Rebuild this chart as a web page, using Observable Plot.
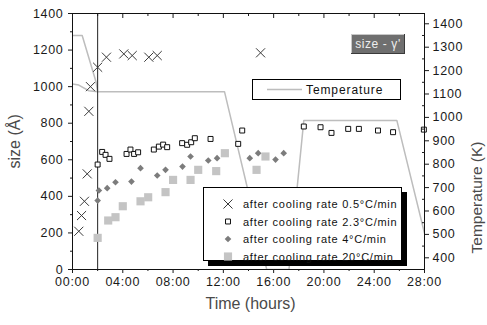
<!DOCTYPE html>
<html><head><meta charset="utf-8">
<script src="https://cdn.jsdelivr.net/npm/d3@7"></script>
<script src="https://cdn.jsdelivr.net/npm/@observablehq/plot@0.6"></script>
<style>
body{margin:0;background:#fff;}
#wrap{position:relative;width:487px;height:325px;overflow:hidden;font-family:"Liberation Sans",Arial,sans-serif;}
.ov{position:absolute;}
</style></head><body><div id="wrap"></div>
<script>
// ---- data (time in hours, size in Å, temperature in K) ----
const t05 = [0.5, 0.72, 0.95, 1.17, 1.3, 1.43, 2.0, 2.7, 4.08, 4.75, 6.07, 6.74, 14.96];
const v05 = [209, 295, 373, 523, 865, 1000, 1106, 1161, 1179, 1170, 1161, 1170, 1185];

const t23 = [2.0, 2.36, 2.63, 2.94, 4.3, 4.61, 4.9, 5.22, 6.47, 6.87, 7.21, 7.53, 8.72, 9.12, 9.44, 9.73, 10.98, 13.18, 13.5, 18.4, 19.73, 20.6, 21.93, 22.78, 24.3, 25.5, 27.95];
const v23 = [574, 643, 627, 605, 632, 656, 632, 641, 656, 672, 683, 669, 691, 682, 696, 718, 714, 687, 760, 782, 778, 747, 769, 769, 760, 751, 765];

const t4 = [2.0, 2.1, 2.76, 3.42, 4.69, 5.41, 6.74, 7.4, 8.75, 9.39, 10.8, 11.5, 14.1, 14.77, 16.15, 16.8];
const v4 = [377, 432, 445, 477, 481, 554, 514, 545, 563, 618, 596, 609, 609, 636, 601, 636];

const t20 = [2.0, 2.84, 3.42, 4.0, 5.41, 6.02, 7.4, 8.0, 9.39, 10.0, 11.43, 12.12, 14.64, 15.35];
const v20 = [173, 268, 286, 346, 373, 395, 423, 490, 490, 545, 538, 636, 545, 618];

const tempT1 = [0, 0.77, 1.88, 2.0, 12.09, 13.87, 15.45, 17.22, 17.87, 18.4, 25.8, 28];
const tempK1 = [1350, 1350, 1150, 1110, 1110, 708, 350, 350, 700, 987, 987, 505];
const tempT2 = [0, 0.5, 1.3, 2.0];
const tempK2 = [1143, 1138, 1114, 1110];

const xTicks = [0, 4, 8, 12, 16, 20, 24, 28];
const xMinor = [2, 6, 10, 14, 18, 22, 26];
const yTicks = [0, 200, 400, 600, 800, 1000, 1200, 1400];
const yMinor = [100, 300, 500, 700, 900, 1100, 1300];
const kTicks = [400, 500, 600, 700, 800, 900, 1000, 1100, 1200, 1300, 1400];
const kMinor = [450, 550, 650, 750, 850, 950, 1050, 1150, 1250, 1350];

const legendLabels = ["after cooling rate 0.5°C/min", "after cooling rate 2.3°C/min", "after cooling rate 4°C/min", "after cooling rate 20°C/min"];
const tempLabel = "Temperature";
const tagLabel = "size - γ'";

// right axis (K) mapped onto left scale (Å)
const K0 = 350, K1 = 1444;
const kToV = k => (k - K0) * 1400 / (K1 - K0);
const vToK = v => K0 + v * (K1 - K0) / 1400;

const zip = (t, v) => t.map((d, i) => ({t: d, v: v[i]}));
const rows05 = zip(t05, v05), rows23 = zip(t23, v23), rows4 = zip(t4, v4), rows20 = zip(t20, v20);
const temp1 = tempT1.map((d, i) => ({t: d, v: kToV(tempK1[i])}));
const temp2 = tempT2.map((d, i) => ({t: d, v: kToV(tempK2[i])}));
const hh = d => String(d).padStart(2, "0") + ":00";

const sym = {
  s05: {symbol: "times", r: 4.2, stroke: "#3a3a3a", fill: "none", strokeWidth: 1},
  s23: {symbol: "square", r: 2.8, stroke: "#111", fill: "white", strokeWidth: 1},
  s4: {symbol: "diamond2", r: 3, fill: "#7c7c7c", stroke: "none"},
  s20: {symbol: "square", r: 4.6, fill: "#c4c4c4", stroke: "none"}
};

const plot = Plot.plot({
  width: 487, height: 325,
  marginLeft: 72, marginRight: 63, marginTop: 13, marginBottom: 56,
  style: {fontFamily: "Liberation Sans, Arial, sans-serif", fontSize: "12.5px", color: "#1a1a1a", background: "white", letterSpacing: "0.7px"},
  x: {domain: [0, 28], label: null},
  y: {domain: [0, 1400], label: null},
  marks: [
    Plot.line(temp1, {x: "t", y: "v", stroke: "#bdbdbd", strokeWidth: 1.5, clip: true}),
    Plot.line(temp2, {x: "t", y: "v", stroke: "#bdbdbd", strokeWidth: 1.5, clip: true}),
    Plot.ruleX([2], {stroke: "#222", strokeWidth: 1}),
    Plot.dot(rows20, {x: "t", y: "v", ...sym.s20}),
    Plot.dot(rows4, {x: "t", y: "v", ...sym.s4}),
    Plot.dot(rows23, {x: "t", y: "v", ...sym.s23}),
    Plot.dot(rows05, {x: "t", y: "v", ...sym.s05}),
    Plot.frame({stroke: "#111"}),
    Plot.axisX({ticks: xTicks, tickSize: 4, tickPadding: 4, tickFormat: hh}),
    Plot.axisX({ticks: xMinor, tickSize: 2, tickFormat: () => ""}),
    Plot.axisX({anchor: "top", ticks: xTicks, tickSize: -4, tickFormat: () => ""}),
    Plot.axisX({anchor: "top", ticks: xMinor, tickSize: -2, tickFormat: () => ""}),
    Plot.axisY({ticks: yTicks, tickSize: 4, tickPadding: 5, tickFormat: d => String(d)}),
    Plot.axisY({ticks: yMinor, tickSize: 2, tickFormat: () => ""}),
    Plot.axisY({anchor: "right", ticks: kTicks.map(kToV), tickSize: 4, tickPadding: 4, tickFormat: v => String(Math.round(vToK(v)))}),
    Plot.axisY({anchor: "right", ticks: kMinor.map(kToV), tickSize: -3, tickFormat: () => ""}),
    Plot.text(["size (Å)"], {frameAnchor: "left", rotate: -90, dx: -58, dy: 27, fontSize: 16, fill: "#4a4a4a"}),
    Plot.text(["Time (hours)"], {frameAnchor: "bottom", dy: 39, dx: 2, fontSize: 16, fill: "#4a4a4a"}),
    Plot.text(["Temperature (K)"], {frameAnchor: "right", rotate: -90, dx: 53, dy: 0, fontSize: 15.5, fill: "#4a4a4a"})
  ]
});
d3.select(plot).selectAll("g[aria-label='text']").attr("letter-spacing", "0px");
const wrap = document.getElementById("wrap");
wrap.appendChild(plot);

// ---- overlays: legends and tag ----
const symPath = (name, r) => {
  const map = {times: d3.symbolTimes, square: d3.symbolSquare, diamond2: d3.symbolDiamond2};
  return d3.symbol(map[name], r * r * Math.PI)();
};

// series legend
const lg = d3.create("svg").attr("width", 210).attr("height", 82)
  .attr("class", "ov").style("left", "203px").style("top", "187px");
lg.append("rect").attr("x", 5).attr("y", 5).attr("width", 199).attr("height", 74).attr("fill", "#000");
lg.append("rect").attr("x", 0.5).attr("y", 0.5).attr("width", 198).attr("height", 73).attr("fill", "#fff").attr("stroke", "#000");
const symKeys = ["s05", "s23", "s4", "s20"];
legendLabels.forEach((lab, i) => {
  const cy = 17 + i * 17.5;
  const s = sym[symKeys[i]];
  lg.append("path").attr("d", symPath(s.symbol, s.r)).attr("transform", `translate(25,${cy})`)
    .attr("fill", s.fill).attr("stroke", s.stroke).attr("stroke-width", s.strokeWidth || 1);
  lg.append("text").attr("x", 40).attr("y", cy + 4).text(lab)
    .attr("font-family", "Liberation Sans, Arial, sans-serif").attr("font-size", 11)
    .attr("letter-spacing", "0.75px").attr("fill", "#111");
});
wrap.appendChild(lg.node());

// temperature legend
const tl = d3.create("svg").attr("width", 150).attr("height", 22)
  .attr("class", "ov").style("left", "252px").style("top", "79px");
tl.append("rect").attr("x", 0.5).attr("y", 0.5).attr("width", 148).attr("height", 20).attr("fill", "#fff").attr("stroke", "#000");
tl.append("line").attr("x1", 15).attr("x2", 50).attr("y1", 10.5).attr("y2", 10.5).attr("stroke", "#bdbdbd").attr("stroke-width", 1.5);
tl.append("text").attr("x", 54).attr("y", 15).text(tempLabel)
  .attr("font-family", "Liberation Sans, Arial, sans-serif").attr("font-size", 12)
  .attr("letter-spacing", "0.9px").attr("fill", "#111");
wrap.appendChild(tl.node());

// tag box
const tg = d3.create("svg").attr("width", 54).attr("height", 20)
  .attr("class", "ov").style("left", "351px").style("top", "34px");
tg.append("rect").attr("x", 0).attr("y", 0).attr("width", 54).attr("height", 20).attr("fill", "#3a3a3a");
tg.append("rect").attr("x", 0).attr("y", 0).attr("width", 53).attr("height", 19).attr("fill", "#c8c8c8");
tg.append("rect").attr("x", 1).attr("y", 1).attr("width", 52).attr("height", 18).attr("fill", "#6f6f6f");
tg.append("text").attr("x", 27).attr("y", 14).attr("text-anchor", "middle").text(tagLabel)
  .attr("font-family", "Liberation Sans, Arial, sans-serif").attr("font-size", 12)
  .attr("letter-spacing", "0.6px").attr("fill", "#eeeeee");
wrap.appendChild(tg.node());
</script>
</body></html>
